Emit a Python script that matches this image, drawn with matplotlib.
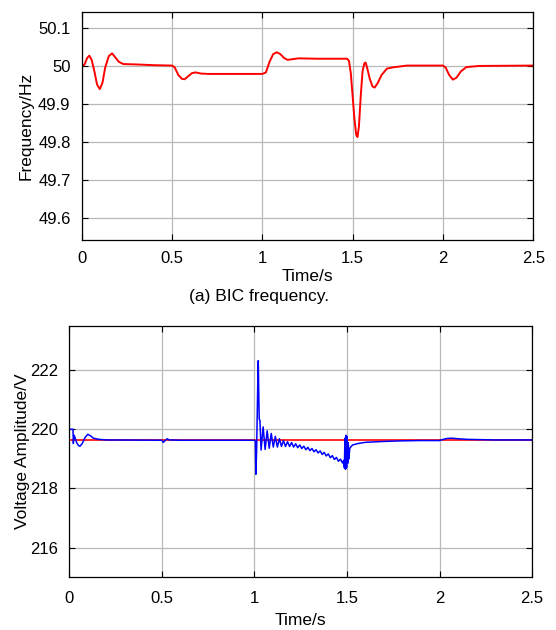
import matplotlib
matplotlib.use("Agg")
import matplotlib.pyplot as plt
from matplotlib.ticker import FuncFormatter

plt.rcParams['font.family'] = ['Liberation Sans', 'DejaVu Sans']
plt.rcParams['font.size'] = 12

# ---- (a) BIC frequency ----
t_freq = [0.000, 0.015, 0.030, 0.042, 0.055, 0.070, 0.085, 0.100, 0.115, 0.130,
          0.150, 0.168, 0.185, 0.205, 0.230, 0.300, 0.400, 0.500, 0.515, 0.535,
          0.555, 0.570, 0.590, 0.610, 0.630, 0.660, 0.700, 0.800, 0.900, 1.000,
          1.020, 1.040, 1.060, 1.080, 1.100, 1.120, 1.140, 1.170, 1.200, 1.300,
          1.400, 1.470, 1.480, 1.490, 1.500, 1.510, 1.520, 1.527, 1.535, 1.545,
          1.555, 1.565, 1.572, 1.580, 1.595, 1.610, 1.622, 1.640, 1.660, 1.690,
          1.720, 1.800, 2.000, 2.015, 2.035, 2.055, 2.075, 2.100, 2.130, 2.200,
          2.500]
freq = [50.000, 50.002, 50.020, 50.026, 50.015, 49.985, 49.950, 49.938, 49.955, 49.995,
        50.025, 50.032, 50.022, 50.010, 50.004, 50.003, 50.001, 50.000, 49.995, 49.975,
        49.965, 49.964, 49.972, 49.980, 49.982, 49.979, 49.978, 49.978, 49.978, 49.978,
        49.982, 50.010, 50.030, 50.035, 50.030, 50.020, 50.015, 50.017, 50.019, 50.018,
        50.018, 50.018, 50.012, 49.980, 49.920, 49.860, 49.818, 49.812, 49.840, 49.920,
        49.985, 50.006, 50.008, 49.995, 49.965, 49.945, 49.942, 49.955, 49.975, 49.992,
        49.995, 50.000, 50.000, 49.995, 49.975, 49.963, 49.968, 49.985, 49.996, 49.999,
        50.000]

# ---- voltage amplitude ----
t_ref = [0.0, 2.5]
v_ref = [219.63, 219.63]

t_volt = [0.000, 0.020, 0.022, 0.026, 0.032, 0.040, 0.050, 0.058, 0.070, 0.085,
          0.100, 0.115, 0.130, 0.160, 0.200, 0.500, 0.508, 0.518, 0.529, 0.540,
          0.600, 1.000, 1.005, 1.008, 1.012, 1.018, 1.021, 1.024, 1.026, 1.030,
          1.036, 1.047, 1.058, 1.069, 1.080, 1.091, 1.102, 1.113, 1.124, 1.135,
          1.146, 1.157, 1.168, 1.179, 1.190, 1.201, 1.212, 1.223, 1.234, 1.245,
          1.256, 1.267, 1.278, 1.289, 1.300, 1.311, 1.322, 1.333, 1.344, 1.355,
          1.366, 1.377, 1.388, 1.399, 1.410, 1.421, 1.432, 1.443, 1.454, 1.465,
          1.476, 1.482, 1.486, 1.489, 1.492, 1.495, 1.498, 1.501, 1.504, 1.507,
          1.510, 1.515, 1.520, 1.530, 1.560, 1.600, 1.700, 1.800, 1.900, 2.000,
          2.020, 2.040, 2.065, 2.100, 2.150, 2.300, 2.500]
volt = [220.00, 220.00, 219.52, 219.80, 219.70, 219.55, 219.45, 219.43, 219.52, 219.72,
        219.83, 219.78, 219.70, 219.66, 219.64, 219.63, 219.56, 219.62, 219.68, 219.64,
        219.63, 219.63, 219.60, 218.48, 219.30, 221.50, 222.32, 221.00, 220.35, 220.30,
        219.30, 220.08, 219.32, 219.95, 219.36, 219.86, 219.40, 219.76, 219.40, 219.68,
        219.42, 219.62, 219.42, 219.58, 219.42, 219.55, 219.40, 219.51, 219.38, 219.47,
        219.35, 219.43, 219.31, 219.39, 219.28, 219.35, 219.24, 219.31, 219.20, 219.27,
        219.15, 219.22, 219.10, 219.17, 219.04, 219.11, 218.98, 219.05, 218.92, 218.99,
        218.86, 218.95, 218.70, 219.70, 218.65, 219.80, 218.70, 219.75, 218.85, 219.55,
        219.00, 219.35, 219.40, 219.47, 219.52, 219.56, 219.59, 219.61, 219.62, 219.62,
        219.66, 219.69, 219.70, 219.68, 219.66, 219.64, 219.64]

fmt = FuncFormatter(lambda v, p: '%g' % round(v, 3))

fig = plt.figure(figsize=(5.56, 6.3), dpi=100)

ax1 = fig.add_axes([0.147, 0.619, 0.812, 0.362])
ax1.plot(t_freq, freq, color='red', lw=1.4)
ax1.set_xlim(0, 2.5)
ax1.set_ylim(49.541, 50.141)
ax1.set_xticks([0, 0.5, 1, 1.5, 2, 2.5])
ax1.set_yticks([49.6, 49.7, 49.8, 49.9, 50.0, 50.1])
ax1.set_xlabel('Time/s', fontsize=12.5, labelpad=2)
ax1.set_ylabel('Frequency/Hz', fontsize=12.5, labelpad=3)

ax2 = fig.add_axes([0.1246, 0.0837, 0.8324, 0.3993])
ax2.plot(t_ref, v_ref, color='red', lw=1.2)
ax2.plot(t_volt, volt, color='blue', lw=1.1)
ax2.set_xlim(0, 2.5)
ax2.set_ylim(215, 223.5)
ax2.set_xticks([0, 0.5, 1, 1.5, 2, 2.5])
ax2.set_yticks([216, 218, 220, 222])
ax2.set_xlabel('Time/s', fontsize=12.5, labelpad=5)
ax2.set_ylabel('Voltage Amplitude/V', fontsize=12.5, labelpad=0)

for ax in (ax1, ax2):
    ax.grid(True, color='#b8b8b8', lw=0.9)
    ax.tick_params(direction='in', top=True, right=True, length=4, width=0.8,
                   labelsize=12, pad=8)
    ax.xaxis.set_major_formatter(fmt)
    ax.yaxis.set_major_formatter(fmt)
    for s in ax.spines.values():
        s.set_linewidth(0.9)
ax2.tick_params(axis='x', pad=10)

fig.text(0.466, 0.529, '(a) BIC frequency.', ha='center', va='center', fontsize=12.5)

fig.savefig('out.png', dpi=100)
